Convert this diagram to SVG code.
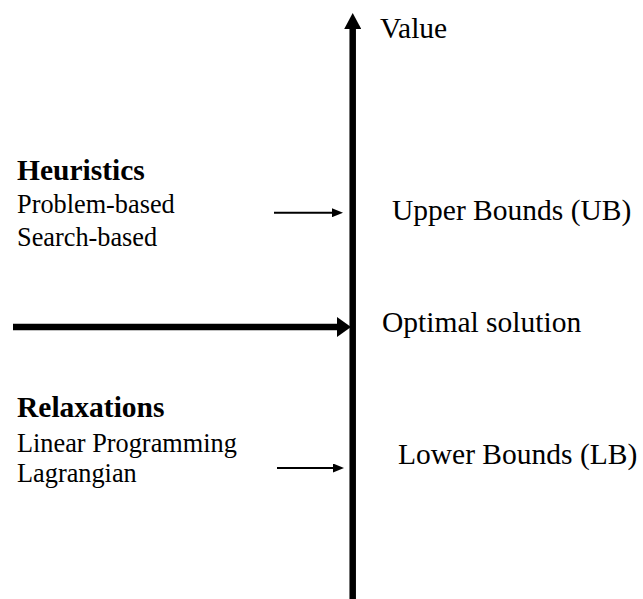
<svg xmlns="http://www.w3.org/2000/svg" width="643" height="599" viewBox="0 0 643 599">
  <style>
    .lbl { font-family: "Liberation Serif", "Times New Roman", Times, serif; font-size: 29.5px; fill: #000; }
    .hd { font-weight: bold; }
    .item { font-size: 26.3px; }
    .thin { stroke: #000; stroke-width: 2; fill: none; }
    .thick { stroke: #000; stroke-width: 6.5; fill: none; }
  </style>
  <defs>
    <marker id="head-small" markerUnits="userSpaceOnUse" markerWidth="11" markerHeight="9" refX="0" refY="4.5" orient="auto">
      <path d="M0,0 L11,4.5 L0,9 z" fill="#000"/>
    </marker>
    <marker id="head-big" markerUnits="userSpaceOnUse" markerWidth="14" markerHeight="20" refX="0" refY="10" orient="auto">
      <path d="M0,0 L14,10 L0,20 z" fill="#000"/>
    </marker>
    <marker id="head-axis" markerUnits="userSpaceOnUse" markerWidth="16" markerHeight="17" refX="0" refY="8.5" orient="auto">
      <path d="M0,0 L16,8.5 L0,17 z" fill="#000"/>
    </marker>
  </defs>
  <rect width="643" height="599" fill="#fff"/>

  <g id="connectors">
    <!-- value axis -->
    <line class="thick" x1="352.7" y1="599" x2="352.7" y2="29" marker-end="url(#head-axis)"/>
    <!-- optimal solution pointer -->
    <line class="thick" x1="13" y1="327" x2="337" y2="327" marker-end="url(#head-big)"/>
    <!-- upper bound pointer -->
    <line class="thin" x1="274" y1="212.7" x2="332" y2="212.7" marker-end="url(#head-small)"/>
    <!-- lower bound pointer -->
    <line class="thin" x1="277" y1="468" x2="333" y2="468" marker-end="url(#head-small)"/>
  </g>

  <g id="value">
    <text class="lbl" x="380" y="38">Value</text>
  </g>

  <g id="heuristics">
    <text class="lbl hd" x="17" y="180">Heuristics</text>
    <text class="lbl item" x="17" y="213">Problem-based</text>
    <text class="lbl item" x="17" y="246">Search-based</text>
  </g>

  <g id="upper-bounds">
    <text class="lbl" x="392" y="220">Upper Bounds (UB)</text>
  </g>

  <g id="optimal">
    <text class="lbl" x="382" y="332">Optimal solution</text>
  </g>

  <g id="relaxations">
    <text class="lbl hd" x="17" y="417">Relaxations</text>
    <text class="lbl item" x="17" y="452">Linear Programming</text>
    <text class="lbl item" x="17" y="482">Lagrangian</text>
  </g>

  <g id="lower-bounds">
    <text class="lbl" x="398" y="464">Lower Bounds (LB)</text>
  </g>
</svg>
